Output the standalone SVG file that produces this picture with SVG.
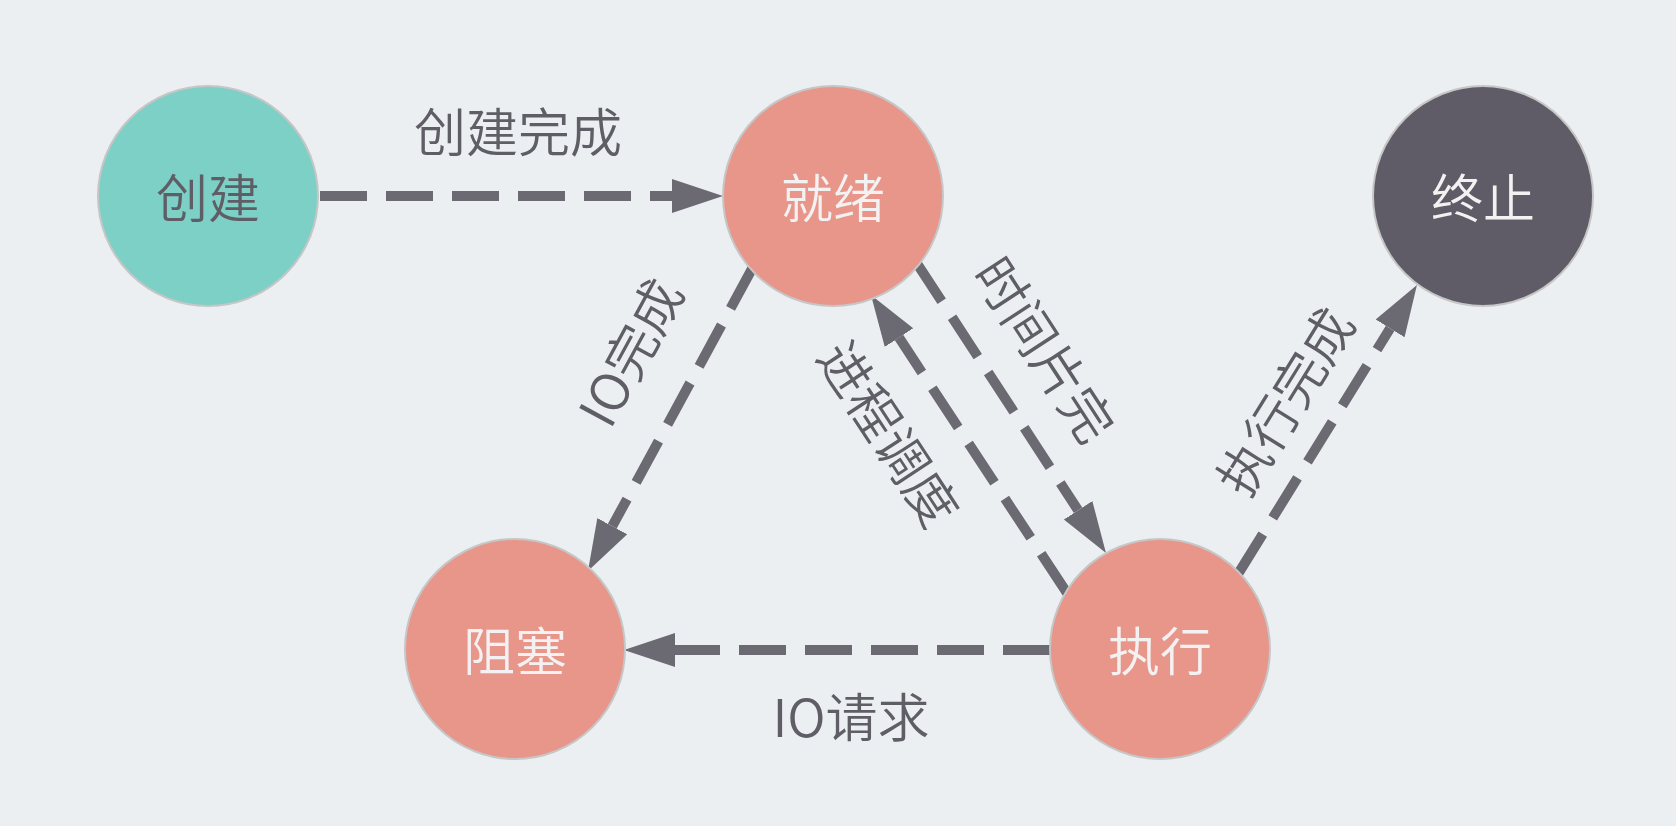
<svg xmlns="http://www.w3.org/2000/svg" width="1676" height="826" viewBox="0 0 1676 826">
  <defs>
    <marker id="arrow" markerUnits="userSpaceOnUse" markerWidth="52" markerHeight="36" viewBox="0 -18 52 36" refX="0" refY="0" orient="auto">
      <path d="M0,-17 L51,0 L0,17 Z" fill="#6b6a73"/>
    </marker>
  </defs>
  <style>
    .bg { fill: #ebeff2; }
    .node { stroke: #c6c6c6; stroke-width: 2; }
    .teal { fill: #7dd0c6; }
    .salmon { fill: #e8958a; }
    .dark { fill: #5f5c67; }
    .label { font-family: "Noto Sans CJK SC", "Noto Sans", sans-serif; font-weight: 350; font-size: 52px; text-anchor: middle; dominant-baseline: central; }
    .lt { fill: #f3f1f1; }
    .dk { fill: #5f5e66; }
    .edge { stroke: #6b6a73; stroke-width: 10; fill: none; stroke-dasharray: 47 19; marker-end: url(#arrow); }
    .elabel { font-family: "Noto Sans CJK SC", "Noto Sans", sans-serif; font-weight: 350; font-size: 52px; fill: #5f5e66; text-anchor: middle; dominant-baseline: central; }
  </style>
  <rect class="bg" x="0" y="0" width="1676" height="826"/>

  <g id="connectors">
    <line class="edge" x1="320" y1="196" x2="672" y2="196"/>
    <line class="edge" x1="753" y1="267" x2="612.3" y2="526.2"/>
    <line class="edge" x1="916" y1="262" x2="1078.1" y2="510.3"/>
    <line class="edge" x1="1067" y1="593" x2="899" y2="337.6"/>
    <line class="edge" x1="1238" y1="574" x2="1390.1" y2="328.4"/>
    <line class="edge" x1="1050" y1="650" x2="675" y2="650"/>
    <text class="elabel" x="518" y="129">创建完成</text>
    <text class="elabel" transform="translate(628,351) rotate(-61.5)">IO完成</text>
    <text class="elabel" transform="translate(891,432) rotate(56.7)">进程调度</text>
    <text class="elabel" transform="translate(1047,348) rotate(56.9)">时间片完</text>
    <text class="elabel" transform="translate(1283,400) rotate(-58.2)">执行完成</text>
    <text class="elabel" x="851" y="714">IO请求</text>
  </g>

  <g id="node-create">
    <circle class="node teal" cx="208" cy="196" r="110"/>
    <text class="label dk" x="208" y="195">创建</text>
  </g>
  <g id="node-ready">
    <circle class="node salmon" cx="833" cy="196" r="110"/>
    <text class="label lt" x="833" y="195">就绪</text>
  </g>
  <g id="node-terminate">
    <circle class="node dark" cx="1483" cy="196" r="110"/>
    <text class="label lt" x="1483" y="195">终止</text>
  </g>
  <g id="node-blocked">
    <circle class="node salmon" cx="515" cy="649" r="110"/>
    <text class="label lt" x="515" y="648">阻塞</text>
  </g>
  <g id="node-running">
    <circle class="node salmon" cx="1160" cy="649" r="110"/>
    <text class="label lt" x="1160" y="648">执行</text>
  </g>
</svg>
